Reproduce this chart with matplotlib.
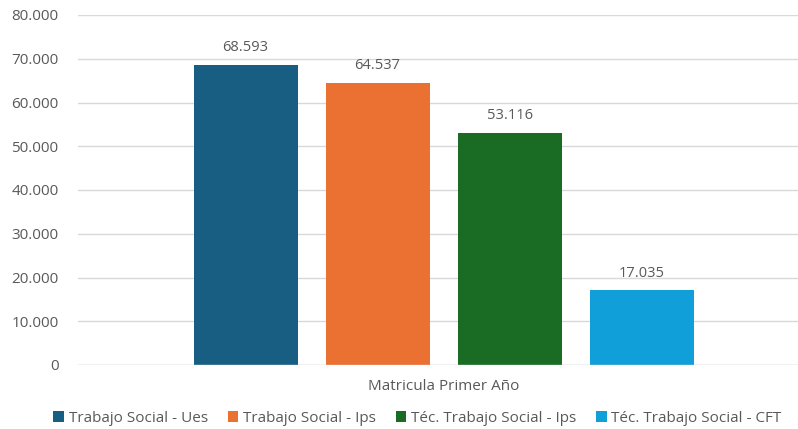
import numpy as np
import matplotlib.pyplot as plt

series = ['Trabajo Social - Ues', 'Trabajo Social - Ips',
          'Téc. Trabajo Social - Ips', 'Téc. Trabajo Social - CFT']
values = [68593, 64537, 53116, 17035]
colors = ['#175E82', '#EB7133', '#1A6B24', '#109FD8']
category = 'Matricula Primer Año'

plt.rcParams['font.family'] = ['Open Sans', 'DejaVu Sans']
grey = '#595959'

fig = plt.figure(figsize=(7.98, 4.29), dpi=100)
ax = fig.add_axes([78 / 798, 64 / 429, 720 / 798, 350 / 429])

width = 104 / 720
step = 132 / 720
offs = (np.arange(len(values)) - 1.5) * step
for o, v, c, s in zip(offs, values, colors, series):
    b = ax.bar(o, v, width, color=c, label=s, zorder=3)
    ax.text(o, v + 2200, f'{v:,}'.replace(',', '.'), ha='center', va='bottom',
            fontsize=10.5, color=grey)

shift = 5.5 / 720
ax.set_xlim(-0.5 - shift, 0.5 - shift)
ax.set_ylim(0, 80000)
ticks = np.arange(0, 80001, 10000)
ax.set_yticks(ticks)
ax.set_yticklabels([f'{t:,}'.replace(',', '.') for t in ticks])
ax.set_xticks([0])
ax.set_xticklabels([category])
ax.tick_params(axis='both', length=0, labelsize=11, labelcolor=grey)
ax.tick_params(axis='x', pad=10)
ax.tick_params(axis='y', pad=14)
ax.grid(axis='y', color='#D9D9D9', linewidth=1, zorder=0)
for sp in ax.spines.values():
    sp.set_visible(False)
ax.axhline(0, color='#D9D9D9', linewidth=1, zorder=4)

fig.legend(loc='center', bbox_to_anchor=(0.523, 11 / 429), ncol=4, frameon=False,
           fontsize=11, labelcolor=grey, handlelength=0.7, handleheight=0.7,
           handletextpad=0.3, columnspacing=1.3, borderaxespad=0, borderpad=0)

fig.savefig('out.png', dpi=100)
